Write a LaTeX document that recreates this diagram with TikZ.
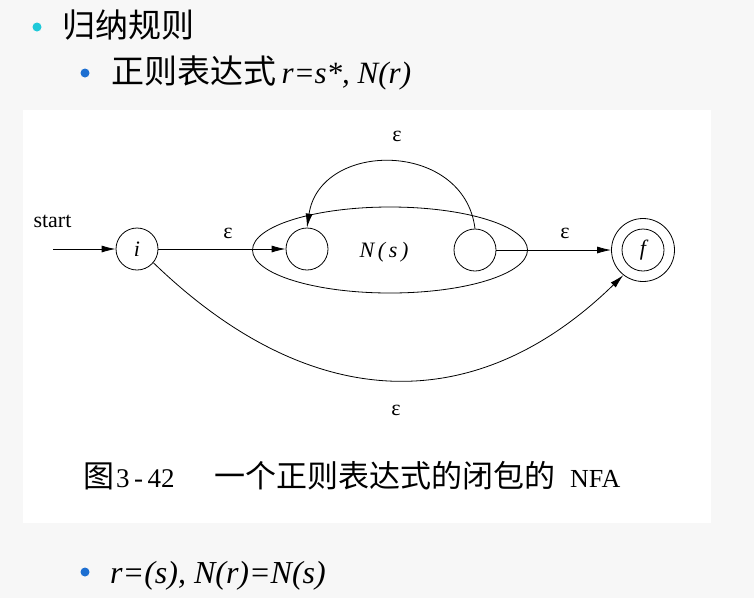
\documentclass[tikz,border=0pt]{standalone}
\usepackage{fontspec}
\setmainfont{Liberation Serif}
\newfontfamily\cjk{Noto Sans CJK SC}
\usetikzlibrary{arrows.meta,shapes.geometric}
\definecolor{bgpage}{HTML}{F7F7F7}
\definecolor{dotone}{HTML}{1FC9D9}
\definecolor{dottwo}{HTML}{1D6FD1}

\begin{document}
\begin{tikzpicture}[x=1pt,y=-1pt,
  >={Latex[length=14pt,width=7pt]},
  state/.style={draw,circle,line width=.8pt,minimum size=42pt,inner sep=0pt,font=\fontsize{22}{24}\selectfont\itshape},
  lbl/.style={font=\fontsize{22}{24}\selectfont},
  bigtxt/.style={anchor=base west,inner sep=0pt,font=\fontsize{33}{36}\selectfont},
  captxt/.style={anchor=base west,inner sep=0pt,font=\fontsize{31}{34}\selectfont}]
\useasboundingbox (0,0) rectangle (754,598);
\fill [bgpage] (0,0) rectangle (754,598);
\fill [white] (23,110) rectangle (711,523);
% bullets
\fill [dotone] (37,27) circle (4.5);
\node [bigtxt] (b1) at (62,37) {\cjk 归纳规则};
\fill [dottwo] (85,73) circle (4.5);
\node [bigtxt] (b2) at (111,83) {{\cjk 正则表达式}\,{\fontsize{31}{34}\selectfont\itshape r=s*, N(r)}};
\fill [dottwo] (85,572) circle (4.5);
\node [bigtxt,font=\fontsize{32}{34}\selectfont\itshape] (b3) at (110,583) {r=(s), N(r)=N(s)};
% the NFA
\node [draw,ellipse,line width=.8pt,minimum width=275pt,minimum height=86pt] (ns) at (390,250) {};
\node [state] (i) at (137,249) {i};
\node [state] (a) at (307,249) {};
\node [state] (b) at (475,250) {};
\node [state] (f) at (643,250) {f};
\node [state,minimum size=63pt] (fo) at (643,250) {};
\node [lbl,font=\fontsize{22}{24}\selectfont\itshape] (nsl) at (384,252) {N\,(\,s\,)};
\node [lbl,anchor=west] (st) at (30,221) {start};
\coordinate (in) at (53,249);
\draw[->,line width=.8pt] (in) -- (i);
\draw[->,line width=.8pt] (i) -- (a);
\draw[->,line width=.8pt] (b) -- (fo);
\draw[->,line width=.8pt] (b.north) .. controls (464,140) and (320,140) .. (a.north);
\draw[->,line width=.8pt] (i.-40) .. controls (313,417) and (478,417) .. (fo.-128);
\node [lbl] (e1) at (228,233) {ε};
\node [lbl] (e2) at (397,136) {ε};
\node [lbl] (e3) at (565,233) {ε};
\node [lbl] (e4) at (396,410) {ε};
% caption
\node [captxt] (c1) at (83,487) {\cjk 图};
\node [captxt,font=\fontsize{27}{30}\selectfont] (c2) at (116,487) {3\,-\,42};
\node [captxt] (c3) at (214,487) {\cjk 一个正则表达式的闭包的};
\node [captxt,font=\fontsize{26}{30}\selectfont] (c4) at (570,487) {NFA};
\end{tikzpicture}
\end{document}
